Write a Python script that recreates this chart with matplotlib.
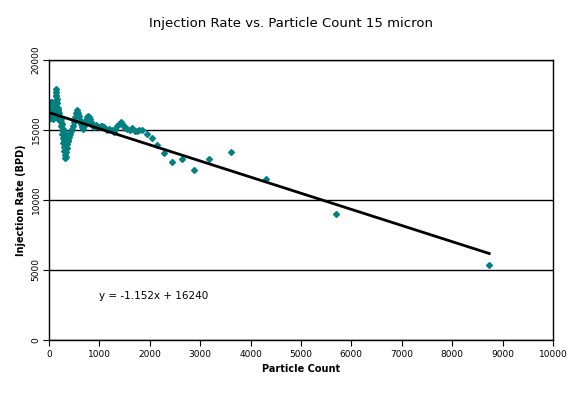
import numpy as np
import matplotlib.pyplot as plt

# particle count (x) and injection rate (y)
blob_x = [10, 15, 20, 25, 30, 40, 50, 60, 70, 80, 90, 100, 110, 120, 130, 135, 135, 140,
          145, 150, 160, 170, 180, 190, 200, 210, 220, 230, 60, 80, 100, 120, 140, 160,
          180, 50, 70, 110, 150, 170, 190, 30, 45, 65, 85, 105, 125, 155, 175, 195]
blob_y = [15800, 16000, 16300, 16600, 16900, 17000, 16800, 16500, 16200, 15900, 15750,
          16000, 16400, 16800, 17100, 17400, 17700, 17900, 17500, 17200, 16900, 16600,
          16400, 16200, 16000, 15800, 15700, 15800, 16800, 16700, 16600, 16500, 16400,
          16300, 16100, 16100, 15850, 15900, 16000, 15800, 15750, 16400, 16600, 17000,
          16900, 16700, 16200, 16600, 16300, 15900]

low_x = [230, 240, 250, 260, 270, 280, 290, 300, 310, 320, 330, 340, 350, 360, 380, 400,
         420, 440, 460, 480, 250, 280, 310, 340, 370, 300, 320]
low_y = [15600, 15300, 15000, 14700, 14400, 14100, 13800, 13500, 13200, 13000, 13100,
         13400, 13700, 14000, 14300, 14500, 14700, 14900, 15100, 15300, 15400, 15100,
         14800, 14500, 14200, 14300, 14000]

tail_x = [500, 520, 540, 560, 580, 600, 620, 640, 660, 680, 700, 720, 740, 760, 780, 800,
          820, 840, 860, 880, 900, 930, 960, 1000, 1030, 1060, 1100, 1150, 1200, 1250,
          1290, 1320, 1350, 1380, 1420, 1450, 1480, 1510, 1550, 1600, 1650, 1700, 1740,
          1790, 1850, 1950, 2050, 2150, 2290, 2450, 2645, 2880, 3180, 3620, 4315, 5700,
          8736]
tail_y = [15600, 15900, 16200, 16400, 16200, 16000, 15700, 15400, 15200, 15100, 15300,
          15500, 15700, 15900, 16000, 15900, 15800, 15600, 15400, 15300, 15200, 15350,
          15300, 15200, 15250, 15300, 15200, 15000, 15050, 15000, 14850, 15100, 15250,
          15400, 15550, 15450, 15300, 15150, 15050, 15000, 15120, 14900, 14950, 15000,
          15000, 14700, 14400, 13900, 13330, 12700, 12900, 12130, 12900, 13400, 11480,
          8980, 5340]

slope = -1.152
intercept = 16240

x = np.array(blob_x + low_x + tail_x)
y = np.array(blob_y + low_y + tail_y)

fig = plt.figure(figsize=(5.76, 3.94), dpi=100)
ax = fig.add_axes([0.085, 0.137, 0.875, 0.711])

ax.plot(x, y, linestyle='none', marker='D', ms=3.0, color='#008080', mec='#008080')
xt = np.array([0, x.max()])
ax.plot(xt, slope * xt + intercept, color='black', lw=2.0)

ax.set_xlim(0, 10000)
ax.set_ylim(0, 20000)
ax.set_xticks(np.arange(0, 10001, 1000))
ax.set_yticks(np.arange(0, 20001, 5000))
ax.tick_params(axis='both', direction='out', length=4, labelsize=6.5, pad=3)
ax.tick_params(axis='y', pad=2)
for lab in ax.get_yticklabels():
    lab.set_rotation(90)
    lab.set_va('center')
ax.yaxis.grid(True, color='black', lw=1)
ax.set_axisbelow(True)
for s in ax.spines.values():
    s.set_linewidth(1)

ax.set_xlabel('Particle Count', fontsize=7, fontweight='bold', labelpad=4)
ax.set_ylabel('Injection Rate (BPD)', fontsize=7, fontweight='bold', labelpad=4)
fig.text(0.505, 0.94, 'Injection Rate vs. Particle Count 15 micron', ha='center',
         va='center', fontsize=9.5)
ax.text(1000, 2900, 'y = -1.152x + 16240', fontsize=7.5)

fig.savefig('out.png')
